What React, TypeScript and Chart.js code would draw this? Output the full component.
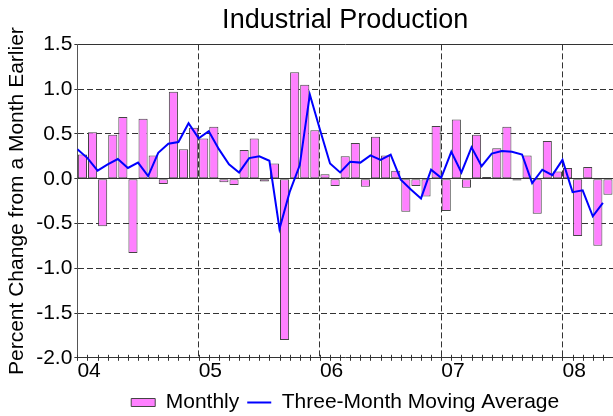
import React, { useEffect, useRef } from 'react';
import { Chart, registerables } from 'chart.js';

Chart.register(...registerables);

// Jan 2004 .. May 2008
const yearLabels = ['04', '05', '06', '07', '08'];

const monthly = [
  0.27, 0.52, -0.53, 0.49, 0.69, -0.83, 0.67, 0.26, -0.06, 0.97, 0.33, 0.57,
  0.45, 0.58, -0.04, -0.07, 0.32, 0.45, -0.03, 0.17, -1.8, 1.19, 1.05, 0.54,
  0.05, -0.08, 0.25, 0.4, -0.09, 0.47, 0.26, 0.09, -0.37, -0.08, -0.2, 0.59,
  -0.36, 0.66, -0.1, 0.49, 0.02, 0.34, 0.58, -0.02, 0.26, -0.39, 0.42, 0.08,
  0.12, -0.64, 0.13, -0.75, -0.18,
];

const movingAvg = [
  0.33, 0.23, 0.09, 0.16, 0.22, 0.12, 0.18, 0.03, 0.29, 0.39, 0.41, 0.62,
  0.45, 0.53, 0.33, 0.16, 0.07, 0.23, 0.25, 0.2, -0.56, -0.15, 0.15, 0.94,
  0.55, 0.17, 0.07, 0.19, 0.18, 0.26, 0.21, 0.27, -0.01, -0.12, -0.22, 0.1,
  0.01, 0.3, 0.07, 0.35, 0.14, 0.28, 0.31, 0.3, 0.27, -0.05, 0.1, 0.04,
  0.21, -0.15, -0.13, -0.42, -0.27,
];

const FONT = "'Liberation Sans', Arial, sans-serif";

const monthTicks = {
  id: 'monthTicks',
  afterDraw(chart: any) {
    const xs = chart.scales.x;
    const ctx = chart.ctx;
    const yb = chart.chartArea.bottom;
    ctx.save();
    ctx.strokeStyle = '#333';
    ctx.lineWidth = 1;
    ctx.beginPath();
    for (let i = 0; i <= monthly.length; i++) {
      const px = Math.round(xs.getPixelForValue(i)) + 0.5;
      ctx.moveTo(px, yb - 3);
      ctx.lineTo(px, yb + 3);
    }
    ctx.stroke();
    ctx.restore();
  },
};

export default function App() {
  const ref = useRef<HTMLCanvasElement>(null);

  useEffect(() => {
    if (!ref.current) return;
    const chart = new Chart(ref.current, {
      type: 'bar',
      data: {
        datasets: [
          {
            type: 'line',
            label: 'Three-Month Moving Average',
            data: movingAvg.map((v, i) => ({ x: i, y: v })),
            borderColor: '#0000FF',
            backgroundColor: '#0000FF',
            borderWidth: 2,
            pointRadius: 0,
            tension: 0,
            fill: false,
          } as any,
          {
            type: 'bar',
            label: 'Monthly',
            data: monthly.map((v, i) => ({ x: i + 0.5, y: v })),
            backgroundColor: '#FF80FF',
            borderColor: '#444',
            borderWidth: 1,
            borderSkipped: false,
            barPercentage: 0.9,
            categoryPercentage: 1,
          } as any,
        ],
      },
      options: {
        animation: false,
        responsive: false,
        events: [],
        layout: { padding: { left: 1, right: 0, top: 0, bottom: -7 } },
        font: { family: FONT },
        scales: {
          x: {
            type: 'linear',
            min: 0,
            max: monthly.length,
            offset: false,
            grid: {
              offset: false,
              drawTicks: true,
              tickLength: 1,
              tickColor: 'rgba(0,0,0,0)',
              color: (ctx: any) =>
                ctx.tick && ctx.tick.value > 0 && ctx.tick.value % 12 === 0 ? '#333' : 'rgba(0,0,0,0)',
              lineWidth: 1,
            },
            border: { display: true, color: '#333', width: 1, dash: [6, 3] },
            ticks: {
              stepSize: 1,
              autoSkip: false,
              maxRotation: 0,
              minRotation: 0,
              align: 'start',
              padding: 0,
              color: '#000',
              font: { family: FONT, size: 21 },
              callback: (v: any) => (Number(v) % 12 === 0 ? yearLabels[Number(v) / 12] ?? '' : ''),
            },
          },
          y: {
            min: -2,
            max: 1.5,
            grid: {
              color: '#333',
              lineWidth: 1,
              tickLength: 3,
              tickColor: '#333',
            },
            border: {
              display: true,
              color: '#555',
              width: 1,
              dash: (ctx: any) =>
                ctx.tick && (ctx.tick.value === 0 || ctx.tick.value === 1.5) ? [] : [6, 3],
            },
            ticks: {
              stepSize: 0.5,
              padding: 2,
              color: '#000',
              font: { family: FONT, size: 21 },
              callback: (v: any) => Number(v).toFixed(1),
            },
            title: {
              display: true,
              text: 'Percent Change from a Month Earlier',
              color: '#000',
              font: { family: FONT, size: 21 },
              padding: { top: 4, bottom: 4 },
            },
          },
        },
        plugins: {
          tooltip: { enabled: false },
          title: {
            display: true,
            text: 'Industrial Production',
            color: '#000',
            fullSize: false,
            font: { family: FONT, size: 27, weight: 'normal' },
            padding: { top: 4, bottom: 8 },
          },
          legend: {
            display: true,
            position: 'bottom',
            fullSize: false,
            reverse: true,
            labels: {
              usePointStyle: true,
              pointStyleWidth: 24,
              boxHeight: 8,
              padding: 8,
              color: '#000',
              font: { family: FONT, size: 21, lineHeight: 1.3 },
              generateLabels: (c: any) => {
                const items = (Chart.defaults.plugins.legend.labels as any).generateLabels(c);
                return items.map((it: any) => {
                  const ds = c.data.datasets[it.datasetIndex];
                  if (ds.type === 'line') {
                    return { ...it, pointStyle: 'line', strokeStyle: '#0000FF', lineWidth: 2 };
                  }
                  return { ...it, pointStyle: 'rect', fillStyle: '#FF80FF', strokeStyle: '#444', lineWidth: 1 };
                });
              },
            },
          },
        },
      } as any,
      plugins: [monthTicks],
    });
    return () => chart.destroy();
  }, []);

  return (
    <div style={{ position: 'absolute', left: 0, top: 0, width: 613, height: 416, background: '#fff' }}>
      <canvas ref={ref} width={613} height={416} style={{ display: 'block' }} />
    </div>
  );
}
